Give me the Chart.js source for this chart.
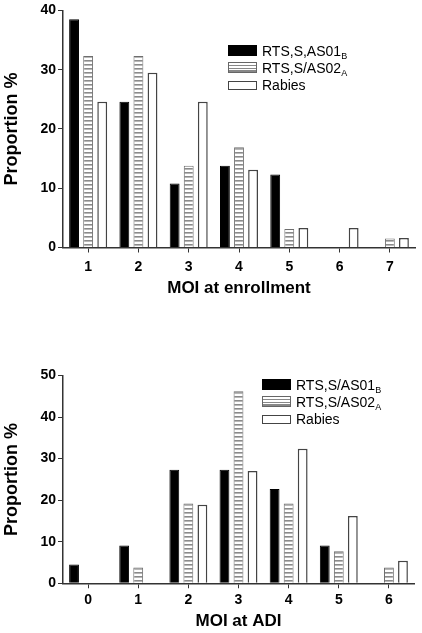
<!DOCTYPE html>
<html>
<head>
<meta charset="utf-8">
<script src="https://cdn.jsdelivr.net/npm/chart.js@4.4.0/dist/chart.umd.min.js"></script>
<style>
    html, body { margin: 0; padding: 0; background: #fff; }
    body { width: 422px; height: 633px; position: relative; overflow: hidden; font-family: 'Liberation Sans', Arial, sans-serif; }
    .panel { position: absolute; left: 0; width: 422px; }
    .legend { position: absolute; font-size: 14px; color: #000; }
    .legend .row { position: relative; height: 17px; line-height: 17px; white-space: nowrap; }
    .legend .box { position: absolute; left: 0; width: 29px; box-sizing: border-box; }
    .legend .txt { position: absolute; left: 34px; top: 0; }
    .legend sub { font-size: 9px; vertical-align: -3px; line-height: 0; }
    .box.solid { top: 2px; height: 11px; background: #000; border: 1px solid #000; }
    .box.hatch { top: 2px; height: 11px; border: 1px solid #666;
        background: repeating-linear-gradient(to bottom, #fff 0 1.5px, #888 1.5px 3px); }
    .box.open { top: 4px; height: 9px; background: #fff; border: 1.5px solid #444; }
</style>
</head>
<body>
    <div class="panel" style="top:0;height:300px;"><canvas id="enrollChart"></canvas></div>
    <div class="legend" style="left:228px;top:43px;">
        <div class="row"><span class="box solid"></span><span class="txt">RTS,S,AS01<sub>B</sub></span></div>
        <div class="row"><span class="box hatch"></span><span class="txt">RTS,S/AS02<sub>A</sub></span></div>
        <div class="row"><span class="box open"></span><span class="txt">Rabies</span></div>
    </div>

    <div class="panel" style="top:320px;height:313px;"><canvas id="adiChart"></canvas></div>
    <div class="legend" style="left:262px;top:377px;">
        <div class="row"><span class="box solid"></span><span class="txt">RTS,S/AS01<sub>B</sub></span></div>
        <div class="row"><span class="box hatch"></span><span class="txt">RTS,S/AS02<sub>A</sub></span></div>
        <div class="row"><span class="box open"></span><span class="txt">Rabies</span></div>
    </div>

<script>
// MOI at enrollment (top panel)
const enrollCats = ['1', '2', '3', '4', '5', '6', '7'];
const enrollAS01B = [38.5, 24.6, 10.8, 13.8, 12.3, 0, 0];
const enrollAS02A = [32.3, 32.3, 13.8, 16.9, 3.1, 0, 1.5];
const enrollRabies = [24.6, 29.5, 24.6, 13.1, 3.3, 3.3, 1.6];
const enrollYMax = 40;

// MOI at ADI (bottom panel)
const adiCats = ['0', '1', '2', '3', '4', '5', '6'];
const adiAS01B = [4.5, 9.1, 27.3, 27.3, 22.7, 9.1, 0];
const adiAS02A = [0, 3.8, 19.2, 46.2, 19.2, 7.7, 3.8];
const adiRabies = [0, 0, 18.9, 27.0, 32.4, 16.2, 5.4];
const adiYMax = 50;

const yStep = 10;
const labelNames = ['RTS,S/AS01B', 'RTS,S/AS02A', 'Rabies'];

// horizontal stripe fill for the AS02A bars
function makeStripes() {
    const c = document.createElement('canvas');
    c.width = 4;
    c.height = 4;
    const g = c.getContext('2d');
    g.fillStyle = '#fff';
    g.fillRect(0, 0, 4, 4);
    g.fillStyle = '#8a8a8a';
    g.fillRect(0, 0, 4, 1.6);
    return g.createPattern(c, 'repeat');
}

const FONT = "'Liberation Sans', Arial, sans-serif";
const AXIS = '#333';

function buildChart(id, cats, a, b, c, yMax, xTitle, pad, xHeight, tickPad) {
    const ctx = document.getElementById(id).getContext('2d');
    const stripes = makeStripes();
    return new Chart(ctx, {
        type: 'bar',
        data: {
            labels: cats,
            datasets: [
                { label: labelNames[0], data: a, backgroundColor: '#000', borderColor: '#000', borderWidth: 1 },
                { label: labelNames[1], data: b, backgroundColor: stripes, borderColor: '#6e6e6e', borderWidth: 1 },
                { label: labelNames[2], data: c, backgroundColor: '#fff', borderColor: '#444', borderWidth: 1.5 }
            ]
        },
        options: {
            responsive: true,
            maintainAspectRatio: false,
            animation: false,
            categoryPercentage: 0.84,
            barPercentage: 0.7,
            layout: { padding: pad },
            plugins: {
                legend: { display: false },
                tooltip: { enabled: false }
            },
            scales: {
                x: {
                    afterFit: s => { s.height = xHeight; },
                    grid: { drawOnChartArea: false, offset: false, tickLength: 5, color: AXIS, tickWidth: 1 },
                    border: { color: AXIS, width: 1.5 },
                    ticks: { color: '#000', padding: tickPad, font: { family: FONT, size: 14, weight: 'bold' } },
                    title: {
                        display: true, text: xTitle, color: '#000',
                        padding: { top: 0, bottom: 1 },
                        font: { family: FONT, size: 17, weight: 'bold' }
                    }
                },
                y: {
                    min: 0,
                    max: yMax,
                    afterFit: s => { s.width = 63; },
                    grid: { drawOnChartArea: false, tickLength: 5, color: AXIS, tickWidth: 1 },
                    border: { color: AXIS, width: 1.5 },
                    ticks: { stepSize: yStep, color: '#000', padding: 2, font: { family: FONT, size: 14, weight: 'bold' } },
                    title: {
                        display: true, text: 'Proportion %', color: '#000',
                        padding: { top: 1, bottom: 0 },
                        font: { family: FONT, size: 18, weight: 'bold' }
                    }
                }
            }
        }
    });
}

buildChart('enrollChart', enrollCats, enrollAS01B, enrollAS02A, enrollRabies, enrollYMax,
    'MOI at enrollment', { left: 0, right: 7, top: 9, bottom: 0 }, 52.5, 6);
buildChart('adiChart', adiCats, adiAS01B, adiAS02A, adiRabies, adiYMax,
    'MOI at ADI', { left: 0, right: 8, top: 55.5, bottom: 0 }, 49.7, 3);
</script>
</body>
</html>
